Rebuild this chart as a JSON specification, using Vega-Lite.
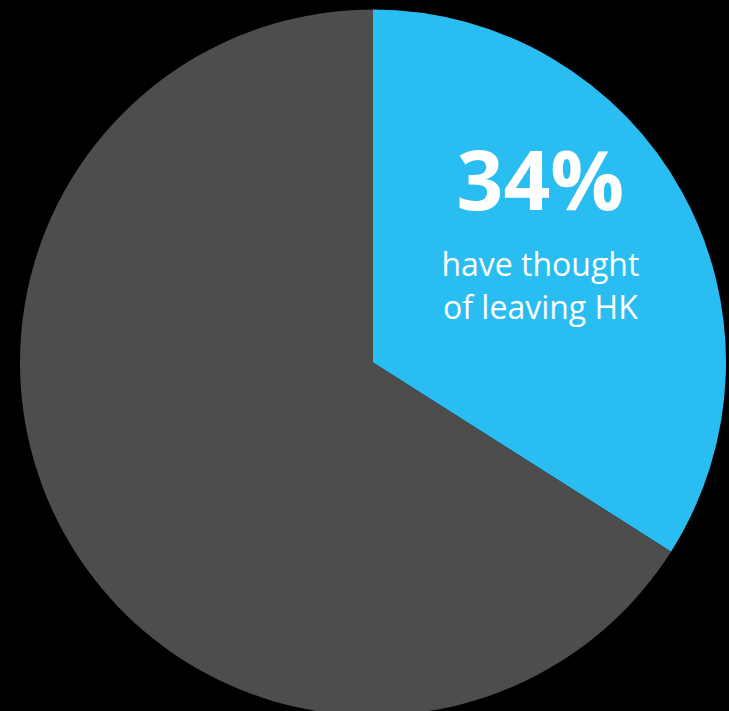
{
  "$schema": "https://vega.github.io/schema/vega-lite/v6.json",
  "width": 729,
  "height": 711,
  "autosize": {"type": "fit", "contains": "padding"},
  "padding": {"left": 17, "top": 14, "right": 0, "bottom": 0},
  "background": "#000000",
  "config": {"view": {"stroke": null}},
  "data": {
    "values": [
      {"category": "have thought of leaving HK", "value": 34, "label": "34%", "line1": "have thought", "line2": "of leaving HK"},
      {"category": "other", "value": 66, "label": "", "line1": "", "line2": ""}
    ]
  },
  "encoding": {
    "theta": {"field": "value", "type": "quantitative", "stack": true},
    "order": {"field": "value", "type": "quantitative", "sort": "ascending"}
  },
  "layer": [
    {
      "mark": {"type": "arc", "radius": 353, "stroke": null},
      "encoding": {
        "color": {
          "field": "category",
          "type": "nominal",
          "scale": {"domain": ["have thought of leaving HK", "other"], "range": ["#29BDF2", "#4D4D4D"]},
          "legend": null
        }
      }
    },
    {
      "mark": {"type": "text", "radius": 191, "dy": -85, "font": "Open Sans", "fontWeight": "bold", "fontSize": 82, "color": "#FFFFFF", "baseline": "middle", "align": "center"},
      "encoding": {"text": {"field": "label"}}
    },
    {
      "mark": {"type": "text", "radius": 191, "dy": -4, "font": "Open Sans", "fontSize": 32, "color": "#FFFFFF", "baseline": "middle", "align": "center"},
      "encoding": {"text": {"field": "line1"}}
    },
    {
      "mark": {"type": "text", "radius": 191, "dy": 39, "font": "Open Sans", "fontSize": 32, "color": "#FFFFFF", "baseline": "middle", "align": "center"},
      "encoding": {"text": {"field": "line2"}}
    }
  ]
}
